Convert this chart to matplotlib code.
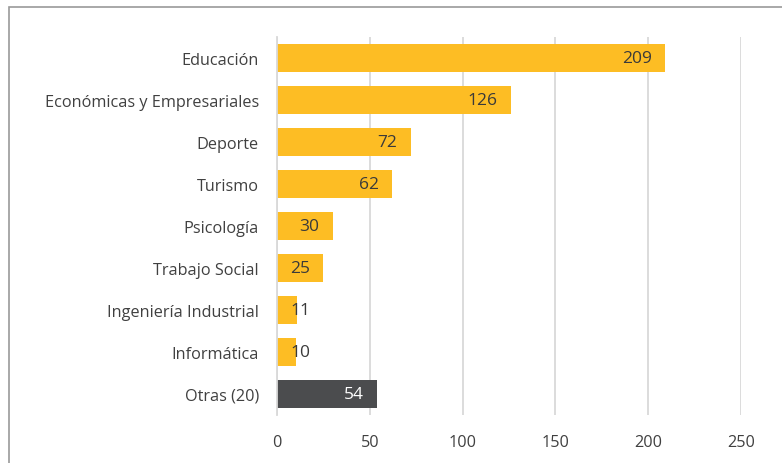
import matplotlib.pyplot as plt
from matplotlib.patches import Rectangle

plt.rcParams['font.family'] = ['Open Sans', 'DejaVu Sans']

categories = ['Educación', 'Económicas y Empresariales', 'Deporte', 'Turismo',
              'Psicología', 'Trabajo Social', 'Ingeniería Industrial',
              'Informática', 'Otras (20)']
values = [209, 126, 72, 62, 30, 25, 11, 10, 54]
colors = ['#FDBD24'] * 8 + ['#4B4C4E']
label_colors = ['#3a3a3a'] * 8 + ['white']

fig = plt.figure(figsize=(7.82, 4.64), dpi=100)
ax = fig.add_axes([277 / 782, (464 - 416) / 464, (741 - 277) / 782, (416 - 38) / 464])

y = list(range(len(categories)))
ax.barh(y, values, height=0.66, color=colors, zorder=3)
ax.set_ylim(len(categories) - 0.5, -0.5)
ax.set_xlim(0, 250)
ax.set_xticks([0, 50, 100, 150, 200, 250])
ax.set_yticks(y)
ax.set_yticklabels(categories)
ax.tick_params(axis='both', length=0, labelsize=11.7, labelcolor='#404040')
ax.tick_params(axis='y', pad=13)
ax.tick_params(axis='x', pad=14)
ax.grid(axis='x', color='#d9d9d9', linewidth=1.3, zorder=0)
for side in ['top', 'right', 'bottom']:
    ax.spines[side].set_visible(False)
ax.spines['left'].set_color('#d9d9d9')
ax.spines['left'].set_linewidth(1.3)
ax.spines['left'].set_zorder(4)

for yi, v, c in zip(y, values, label_colors):
    if v < 20:
        ax.annotate(str(v), (0, yi), xytext=(9.5, 0), textcoords='offset points',
                    ha='left', va='center', fontsize=12.5, color=c, zorder=5)
    else:
        ax.annotate(str(v), (v, yi), xytext=(-9.5, 0), textcoords='offset points',
                    ha='right', va='center', fontsize=12.5, color=c, zorder=5)

# outer frame
fig.patches.append(Rectangle((9 / 782, -0.01), 1.0, 1 - 8 / 464 + 0.01,
                             transform=fig.transFigure, fill=False,
                             edgecolor='#9a9a9a', linewidth=1.2))

fig.savefig('out.png', dpi=100)
